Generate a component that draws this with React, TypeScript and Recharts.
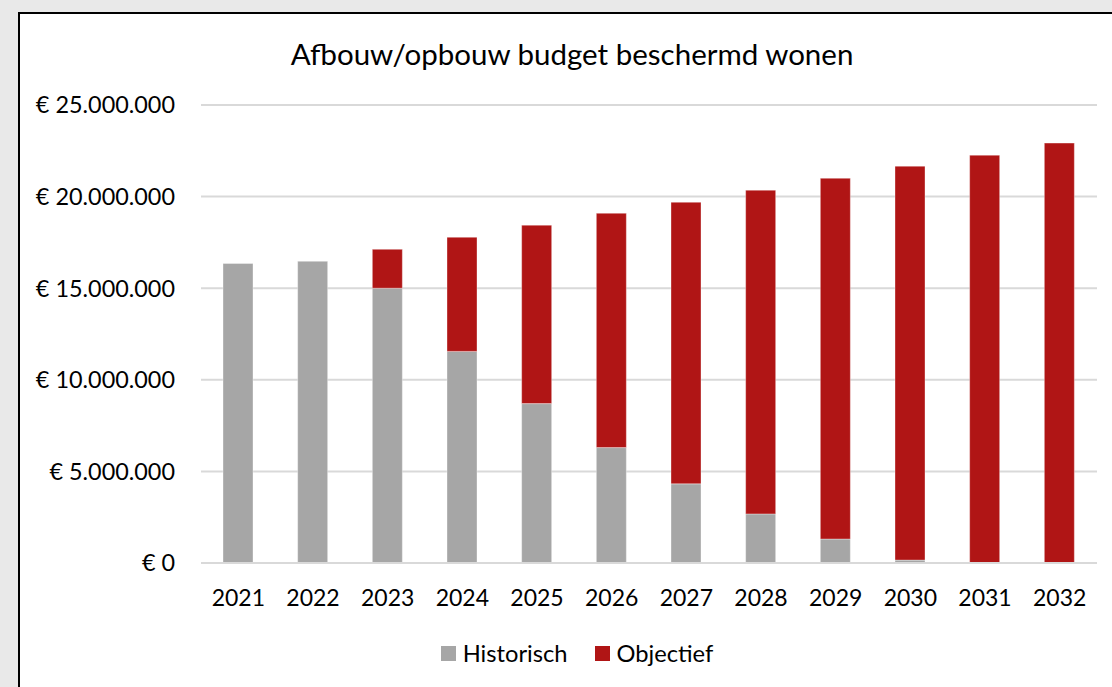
import { BarChart, Bar, XAxis, YAxis, CartesianGrid, Legend } from "recharts";

const years = ["2021", "2022", "2023", "2024", "2025", "2026", "2027", "2028", "2029", "2030", "2031", "2032"];
const historisch = [16350000, 16470000, 15000000, 11550000, 8700000, 6300000, 4320000, 2680000, 1310000, 160000, 0, 0];
const objectief = [0, 0, 2120000, 6230000, 9740000, 12790000, 15370000, 17670000, 19690000, 21500000, 22260000, 22920000];
const yTicks = [0, 5000000, 10000000, 15000000, 20000000, 25000000];

const GRAY = "#a6a6a6";
const RED = "#b01515";
const FONT = "Lato, 'Open Sans', sans-serif";

const data = years.map((year, i) => ({ year, Historisch: historisch[i], Objectief: objectief[i] }));

const fmtEuro = (v: number) => "€ " + v.toLocaleString("de-DE");

const renderLegend = (props: any) => {
  const { payload } = props;
  return (
    <div style={{ display: "flex", justifyContent: "center", alignItems: "center", gap: 27, fontSize: 23.7, fontFamily: FONT, color: "#000", lineHeight: "26px", paddingLeft: 42 }}>
      {payload.map((p: any) => (
        <div key={p.value} style={{ display: "flex", alignItems: "center" }}>
          <span style={{ display: "inline-block", width: 15, height: 15, background: p.color, marginRight: 7 }} />
          <span>{p.value}</span>
        </div>
      ))}
    </div>
  );
};

const App = () => {
  return (
    <div style={{ position: "absolute", left: 0, top: 0, width: 1112, height: 687, background: "#e9e9e9", overflow: "hidden", fontFamily: FONT }}>
      {/* chart box */}
      <div style={{ position: "absolute", left: 18, top: 12, width: 1120, height: 700, border: "2px solid #000", background: "#fff", boxSizing: "border-box" }} />
      <div style={{ position: "absolute", left: 0, top: 36, width: 1144, textAlign: "center", fontSize: 29.5, color: "#000" }}>
        Afbouw/opbouw budget beschermd wonen
      </div>
      <div style={{ position: "absolute", left: 0, top: 0 }}>
        <BarChart width={1112} height={687} data={data} barSize={30} margin={{ top: 105, right: 15, left: 0, bottom: 58 }}>
          <CartesianGrid vertical={false} stroke="#d9d9d9" strokeWidth={2} />
          <XAxis dataKey="year" axisLine={{ stroke: "#d9d9d9", strokeWidth: 2 }} tickLine={false} height={40}
            tick={{ fontSize: 23, fill: "#000", fontFamily: FONT }} tickMargin={21} />
          <YAxis width={201} domain={[0, 25000000]} ticks={yTicks} axisLine={false} tickLine={false}
            tickFormatter={fmtEuro} tick={{ fontSize: 23.4, fill: "#000", fontFamily: FONT }} tickMargin={20} />
          <Legend verticalAlign="bottom" content={renderLegend} wrapperStyle={{ top: 640, left: 0, width: 1112 }} />
          <Bar dataKey="Historisch" stackId="a" fill={GRAY} stroke="rgba(255,255,255,0.35)" isAnimationActive={false} />
          <Bar dataKey="Objectief" stackId="a" fill={RED} stroke="rgba(255,255,255,0.35)" isAnimationActive={false} />
        </BarChart>
      </div>
    </div>
  );
};

export default App;
